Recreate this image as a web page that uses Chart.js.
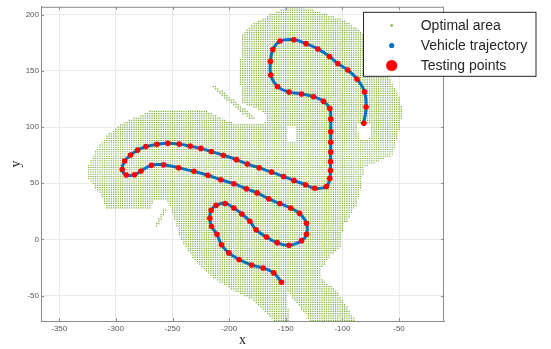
<!DOCTYPE html>
<html>
<head>
<meta charset="utf-8">
<script src="https://cdn.jsdelivr.net/npm/chart.js@4.4.1/dist/chart.umd.min.js"></script>
<style>
    html, body { margin: 0; padding: 0; background: #fff; }
</style>
</head>
<body>
<canvas id="trajChart" width="551" height="349"></canvas>
<script>
// testing points along the vehicle trajectory, in drive order
const trajX = [-153.8, -160.6, -170, -180.2, -191.2, -200.3, -206.7, -210.8, -215.5, -217,
    -215.9, -211.5, -203.5, -195.8, -188.8, -181.7, -176.2, -167, -157.6, -147.1,
    -136.1, -131.7, -131.7, -137.9, -145.6, -155.3, -165, -175.3, -184.8, -195.8,
    -207.3, -218.8, -231.1, -244.6, -257.9, -268.6, -277.9, -283.5, -290.9, -294.4,
    -292.3, -287, -280.8, -273.5, -263.8, -254.1, -244.1, -234.4, -225, -215.7,
    -205.1, -193.5, -183.9, -173.5, -162.6, -152, -142.9, -132.6, -124.4, -114.1,
    -111.1, -110.5, -110.5, -110.3, -110.3, -110.3, -110.3, -111.1, -116.7, -125.5,
    -136.1, -147.1, -157.3, -163.2, -163.5, -161.4, -155, -142.9, -132.1, -121.7,
    -111.4, -104.1, -95.3, -87.1, -80.5, -79.1, -81.1];
const trajY = [-38.1, -29.8, -25.4, -22.8, -17.9, -12, -4.7, 4.5, 11.5, 18.8,
    25.9, 30.3, 32, 27.9, 22.6, 16.2, 8.5, 2.1, -2.9, -5.2,
    -1.1, 4.5, 14.4, 23.2, 27.9, 32, 36.1, 41.4, 45, 49.6,
    53.1, 57.1, 60.6, 63.7, 66.5, 65.9, 60.9, 57.5, 57.3, 62.2,
    69.8, 75.1, 79.5, 82.6, 84.6, 85.5, 84.8, 83, 81, 78.2,
    74.9, 71, 67, 63.7, 59.9, 56, 52.5, 48.7, 45.5, 47,
    54.3, 61.3, 69.2, 77.7, 86.5, 95.8, 107, 116.4, 122.9, 127,
    129.4, 131.1, 136.1, 146.3, 158.4, 169, 176.5, 177.7, 174.2, 169.5,
    162.8, 156.6, 150.7, 142.8, 131.4, 117.9, 103.3];

// optimal area: outline, thin streaks and holes (x, y)
const areaOuter = [[-148.2, 207], [-137.6, 207], [-120, 202.6], [-97.9, 194.7], [-82.9, 185],
    [-71.4, 170.1], [-62.6, 155.1], [-56.4, 139.3], [-49.4, 126.1], [-46.7, 112.9],
    [-49.4, 99.7], [-52.9, 86.5], [-55.6, 75.1], [-68.8, 69], [-81.1, 64.6],
    [-82.9, 48.7], [-87.3, 31.1], [-95.3, 16.2], [-99.7, 14],
    [-100.6, -5.8], [-111.1, -14.6], [-118.2, -26], [-118.2, -34.8], [-104.1, -47.1],
    [-86.4, -75], [-126.1, -75], [-150, -44.5], [-146.4, -75], [-158.8, -75],
    [-179.1, -54.2], [-196.7, -45.4], [-214.4, -33.9], [-232, -16.4], [-243.5, 1.2],
    [-249.7, 23.2], [-254.1, 33.8], [-265.6, 35.5], [-270, 26.7], [-307.9, 26.7],
    [-314.1, 40.8], [-324.7, 54.9], [-324.7, 64.6], [-318.5, 77.7], [-307.9, 92.7],
    [-293.8, 104.1], [-278.8, 110.3], [-267.3, 115.6], [-241.7, 115.6], [-219.7, 114.7],
    [-199.4, 104.1], [-171.1, 102.4], [-165.8, 107.7], [-171.1, 114.7], [-180, 118.2],
    [-188.8, 121.7], [-190.6, 143.7], [-189.7, 170.1], [-187.9, 183.3], [-179.1, 192.1],
    [-162.3, 200.9]];
const areaStreaks = [
    [[-216.1, 135.8], [-211.7, 136.7], [-176.4, 108.5], [-180.8, 105.9]],
    [[-266.4, 10.9], [-262.9, 10.9], [-255, 25.9], [-258.5, 26.7]]
];
const areaHoles = [
    [[-149.1, 101.5], [-140.3, 101.5], [-140.3, 86.5], [-149.1, 86.5]],
    [[-87.3, 102.4], [-75.9, 102.4], [-74.1, 90.9], [-84.7, 88.3]]
];
const areaStep = 2;

const xTicks = [-350, -300, -250, -200, -150, -100, -50];
const yTicks = [-50, 0, 50, 100, 150, 200];
const xRange = [-366.1, -10.3];
const yRange = [-72.6, 207];

function insidePoly(x, y, poly) {
    let inside = false;
    for (let i = 0, j = poly.length - 1; i < poly.length; j = i++) {
        const [xi, yi] = poly[i];
        const [xj, yj] = poly[j];
        if ((yi > y) !== (yj > y) && x < (xj - xi) * (y - yi) / (yj - yi) + xi) inside = !inside;
    }
    return inside;
}

const areaPoints = [];
for (let y = -72; y <= 207; y += areaStep) {
    for (let x = -366; x <= -10; x += areaStep) {
        const inArea = insidePoly(x, y, areaOuter) || areaStreaks.some(p => insidePoly(x, y, p));
        if (inArea && !areaHoles.some(p => insidePoly(x, y, p))) areaPoints.push({ x, y });
    }
}
const trajPoints = trajX.map((x, i) => ({ x, y: trajY[i] }));

const tickFont = { family: '"Liberation Sans", Arial, sans-serif', size: 8 };
const titleFont = { family: '"Liberation Serif", "Times New Roman", serif', size: 14 };
const axisColor = '#8c8c8c';

// MATLAB style box: top/right edges and inward ticks on every side
const boxTicks = {
    id: 'boxTicks',
    afterDatasetsDraw(chart) {
        const { ctx, chartArea: a, scales } = chart;
        ctx.save();
        ctx.strokeStyle = axisColor;
        ctx.lineWidth = 1;
        ctx.beginPath();
        ctx.moveTo(a.left, a.top + 0.5);
        ctx.lineTo(a.right, a.top + 0.5);
        ctx.moveTo(a.right - 0.5, a.top);
        ctx.lineTo(a.right - 0.5, a.bottom);
        xTicks.forEach(v => {
            const p = Math.round(scales.x.getPixelForValue(v)) + 0.5;
            ctx.moveTo(p, a.bottom); ctx.lineTo(p, a.bottom - 3);
            ctx.moveTo(p, a.top); ctx.lineTo(p, a.top + 3);
        });
        yTicks.forEach(v => {
            const p = Math.round(scales.y.getPixelForValue(v)) + 0.5;
            ctx.moveTo(a.left, p); ctx.lineTo(a.left + 3, p);
            ctx.moveTo(a.right, p); ctx.lineTo(a.right - 3, p);
        });
        ctx.stroke();
        ctx.restore();
    }
};

// legend box overlapping the top right corner of the axes
const legendBox = {
    id: 'legendBox',
    afterDraw(chart) {
        const { ctx, chartArea: a } = chart;
        const left = a.right - 80.5, top = a.top + 5.5;
        ctx.save();
        ctx.fillStyle = '#fff';
        ctx.fillRect(left, top, 172.5, 64);
        ctx.strokeStyle = '#262626';
        ctx.lineWidth = 1;
        ctx.strokeRect(left, top, 172.5, 64);
        ctx.font = '14px "Liberation Sans", Arial, sans-serif';
        ctx.textBaseline = 'middle';
        chart.data.datasets.forEach((ds, i) => {
            const y = top + 13.2 + i * 20;
            ctx.fillStyle = ds.legendColor;
            ctx.beginPath();
            ctx.arc(left + 28.2, y, ds.legendRadius, 0, Math.PI * 2);
            ctx.fill();
            ctx.fillStyle = '#262626';
            ctx.fillText(ds.label, left + 57.2, y + 0.5);
        });
        ctx.restore();
    }
};

new Chart(document.getElementById('trajChart'), {
    type: 'scatter',
    data: {
        datasets: [{
            label: 'Optimal area',
            data: areaPoints,
            order: 3,
            pointStyle: 'rect',
            pointRadius: 0.85,
            pointBorderWidth: 0,
            backgroundColor: '#77AC30',
            legendColor: '#77AC30',
            legendRadius: 1.3,
        }, {
            label: 'Vehicle trajectory',
            data: trajPoints,
            order: 2,
            showLine: true,
            tension: 0.4,
            borderColor: '#0072BD',
            borderWidth: 3,
            pointRadius: 0,
            legendColor: '#0072BD',
            legendRadius: 2.6,
        }, {
            label: 'Testing points',
            data: trajPoints,
            order: 1,
            pointRadius: 2.8,
            pointBorderWidth: 0,
            backgroundColor: '#FF0000',
            legendColor: '#FF0000',
            legendRadius: 5.6,
        }]
    },
    options: {
        responsive: false,
        animation: false,
        events: [],
        layout: { padding: { top: 3, right: 107, left: 0, bottom: 0 } },
        plugins: {
            legend: { display: false },
            tooltip: { enabled: false }
        },
        scales: {
            x: {
                type: 'linear',
                min: xRange[0],
                max: xRange[1],
                afterBuildTicks: s => { s.ticks = xTicks.map(v => ({ value: v })); },
                afterFit: s => { s.height = 28; },
                grid: { color: '#ebebeb', drawTicks: false },
                border: { color: axisColor },
                ticks: { font: tickFont, color: '#555', padding: 3, maxRotation: 0, autoSkip: false },
                title: { display: true, text: 'x', font: titleFont, color: '#262626', padding: 0 }
            },
            y: {
                type: 'linear',
                min: yRange[0],
                max: yRange[1],
                afterBuildTicks: s => { s.ticks = yTicks.map(v => ({ value: v })); },
                afterFit: s => { s.width = 41; },
                grid: { color: '#ebebeb', drawTicks: false },
                border: { color: axisColor },
                ticks: { font: tickFont, color: '#555', padding: 2, autoSkip: false },
                title: { display: true, text: 'y', font: titleFont, color: '#262626', padding: { top: 8, bottom: 0 } }
            }
        }
    },
    plugins: [boxTicks, legendBox]
});
</script>
</body>
</html>
